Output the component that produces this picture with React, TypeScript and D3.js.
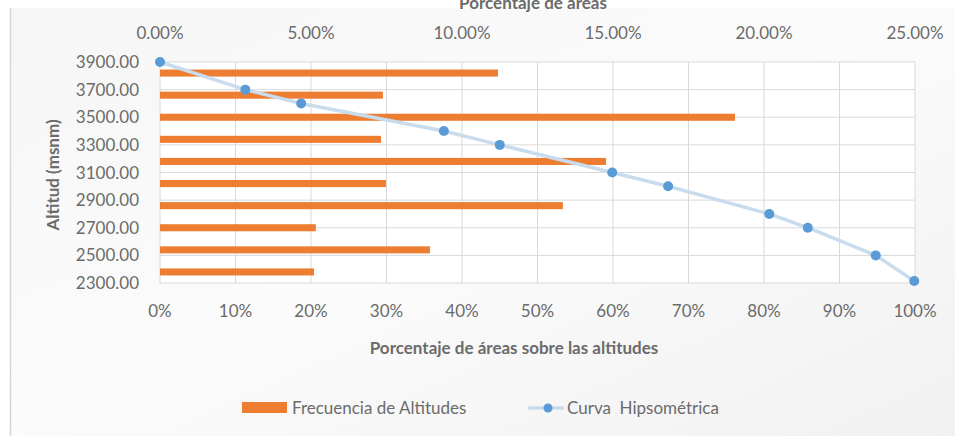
import React from "react";
import * as d3 from "d3";

const altitudeTicks = [3900, 3700, 3500, 3300, 3100, 2900, 2700, 2500, 2300];
const barCategories = ["c1", "c2", "c3", "c4", "c5", "c6", "c7", "c8", "c9", "c10"];
const barValues = [11.19, 7.38, 19.04, 7.32, 14.77, 7.48, 13.34, 5.16, 8.94, 5.1];
const curveAltitudes = [3900, 3700, 3600, 3400, 3300, 3100, 3000, 2800, 2700, 2500, 2315];
const curvePercents = [0, 11.3, 18.7, 37.6, 45.0, 59.9, 67.3, 80.7, 85.8, 94.8, 99.9];
const topTicks = [0, 5, 10, 15, 20, 25];
const bottomTicks = [0, 10, 20, 30, 40, 50, 60, 70, 80, 90, 100];

const FONT = "Lato, 'Open Sans', sans-serif";
const TXT = "#6b6b6b";

export default function App() {
  const W = 955, H = 436;
  const x0 = 160, x1 = 915, yTop = 62, yBot = 283;
  const xTop = d3.scaleLinear().domain([0, 25]).range([x0, x1]);
  const xBot = d3.scaleLinear().domain([0, 100]).range([x0, x1]);
  const yAlt = d3.scaleLinear().domain([2300, 3900]).range([yBot, yTop]);
  const yBand = d3.scaleBand().domain(barCategories).range([yTop, yBot]).paddingInner(0.68).paddingOuter(0.34);
  const pts = curvePercents.map((p, i) => [xBot(p), yAlt(curveAltitudes[i])] as [number, number]);
  const line = d3.line().curve(d3.curveLinear)(pts) || "";
  const vgrid = d3.range(0, 101, 10);

  return (
    <svg width={W} height={H} style={{ position: "absolute", left: 0, top: 0, fontFamily: FONT }}>
      <defs>
        <linearGradient id="bg" x1="0" y1="0" x2="1" y2="1">
          <stop offset="0" stopColor="#f6f6f6" />
          <stop offset="0.5" stopColor="#fbfbfb" />
          <stop offset="1" stopColor="#f1f1f1" />
        </linearGradient>
      </defs>
      <rect x={0} y={0} width={W} height={H} fill="#ffffff" />
      <rect x={10} y={8} width={W - 10} height={H - 8} fill="url(#bg)" />
      <line x1={10.5} y1={8} x2={10.5} y2={436} stroke="#d6d6d6" strokeWidth={1.5} />
      <rect x={x0} y={yTop} width={x1 - x0} height={yBot - yTop} fill="#ffffff" />
      {vgrid.map((v) => (
        <line key={"vg" + v} x1={xBot(v)} x2={xBot(v)} y1={yTop} y2={yBot} stroke="#d9d9d9" strokeWidth={1} />
      ))}
      {altitudeTicks.map((a) => (
        <line key={"hg" + a} x1={x0} x2={x1} y1={yAlt(a)} y2={yAlt(a)} stroke="#d9d9d9" strokeWidth={1} />
      ))}
      {barCategories.map((c, i) => (
        <rect key={c} x={x0} y={yBand(c)} width={xTop(barValues[i]) - x0} height={yBand.bandwidth()} fill="#ed7d31" />
      ))}
      <path d={line} fill="none" stroke="#c9dcee" strokeWidth={3.5} />
      {pts.map((p, i) => (
        <circle key={"p" + i} cx={p[0]} cy={p[1]} r={5} fill="#5b9bd5" />
      ))}
      {topTicks.map((t) => (
        <text key={"tt" + t} x={xTop(t)} y={39} textAnchor="middle" fontSize={17} fill={TXT}>
          {t.toFixed(2) + "%"}
        </text>
      ))}
      {bottomTicks.map((t) => (
        <text key={"bt" + t} x={xBot(t)} y={317} textAnchor="middle" fontSize={17} fill={TXT}>
          {t + "%"}
        </text>
      ))}
      {altitudeTicks.map((a) => (
        <text key={"yt" + a} x={139} y={yAlt(a) + 6} textAnchor="end" fontSize={17} fill={TXT}>
          {a.toFixed(2)}
        </text>
      ))}
      <text x={533} y={9} textAnchor="middle" fontSize={17} fontWeight="bold" fill={TXT}>
        Porcentaje de áreas
      </text>
      <text x={514} y={354} textAnchor="middle" fontSize={17} fontWeight="bold" fill={TXT}>
        Porcentaje de áreas sobre las altitudes
      </text>
      <text transform="translate(59,175) rotate(-90)" textAnchor="middle" fontSize={17} fontWeight="bold" fill={TXT}>
        Altitud (msnm)
      </text>
      <rect x={242} y={402} width={45} height={11} fill="#ed7d31" />
      <text x={292} y={414} fontSize={17} fill={TXT}>Frecuencia de Altitudes</text>
      <line x1={528} x2={564} y1={408} y2={408} stroke="#c9dcee" strokeWidth={3.5} />
      <circle cx={548} cy={408} r={4.5} fill="#5b9bd5" />
      <text x={567} y={414} fontSize={17} fill={TXT} style={{ whiteSpace: "pre" }}>{"Curva  Hipsométrica"}</text>
    </svg>
  );
}
